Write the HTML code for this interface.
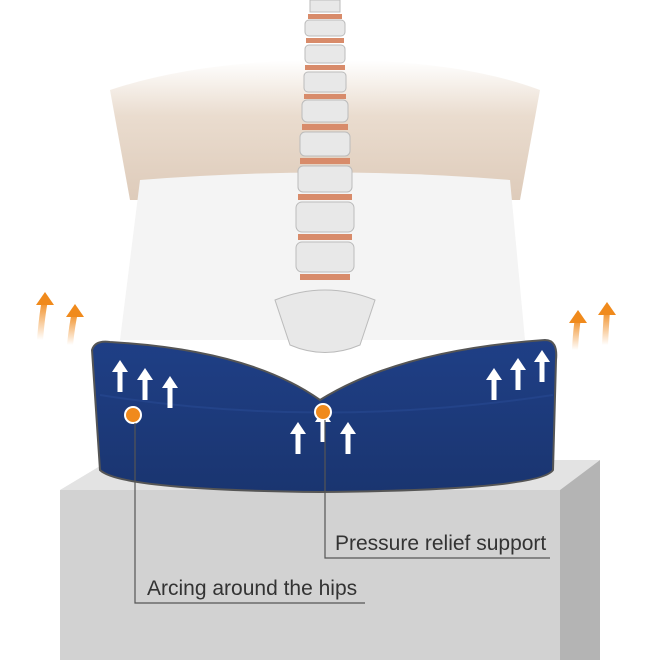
<!DOCTYPE html>
<html><head><style>
body{margin:0;width:660px;height:660px;overflow:hidden;background:#fff;font-family:"Liberation Sans",sans-serif}
</style></head><body>
<svg width="660" height="660" viewBox="0 0 660 660" xmlns="http://www.w3.org/2000/svg">
<defs>
<linearGradient id="torso" x1="0" y1="0" x2="0" y2="1">
<stop offset="0" stop-color="#fff"/><stop offset="0.4" stop-color="#e6d6c6"/><stop offset="1" stop-color="#d8c2ae"/></linearGradient>
<linearGradient id="cush" x1="0" y1="0" x2="0" y2="1">
<stop offset="0" stop-color="#1f3f86"/><stop offset="1" stop-color="#1a3570"/></linearGradient>
<linearGradient id="org" x1="0" y1="1" x2="0" y2="0">
<stop offset="0" stop-color="#fff"/><stop offset="1" stop-color="#f08a1c"/></linearGradient>
</defs>
<path d="M110 90 Q200 60 330 60 Q460 60 540 90 L520 200 L130 200 Z" fill="url(#torso)" opacity="0.85"/>
<path d="M140 180 Q330 165 510 180 L525 340 L120 340 Z" fill="#f4f4f4"/>
<polygon points="60,490 110,460 600,460 560,490" fill="#e3e3e3"/>
<rect x="60" y="490" width="500" height="170" fill="#d2d2d2"/>
<polygon points="560,490 600,460 600,660 560,660" fill="#b4b4b4"/>
<path d="M92 350 Q95 340 110 342 Q250 350 320 400 Q400 350 545 340 Q558 340 556 360 L553 470 Q540 490 320 492 Q120 490 100 470 Z" fill="url(#cush)" stroke="#555" stroke-width="2"/>
<path d="M100 395 Q320 430 553 395" fill="none" stroke="#2a4b96" stroke-width="2" opacity="0.5"/>
<g fill="#e8e8e8" stroke="#bbb">
<rect x="310" y="0" width="30" height="12"/>
<rect x="305" y="20" width="40" height="16" rx="4"/>
<rect x="305" y="45" width="40" height="18" rx="4"/>
<rect x="304" y="72" width="42" height="20" rx="4"/>
<rect x="302" y="100" width="46" height="22" rx="5"/>
<rect x="300" y="132" width="50" height="24" rx="5"/>
<rect x="298" y="166" width="54" height="26" rx="5"/>
<rect x="296" y="202" width="58" height="30" rx="6"/>
<rect x="296" y="242" width="58" height="30" rx="6"/>
<path d="M275 300 Q325 280 375 300 L360 345 Q325 360 290 345 Z"/>
</g>
<g fill="#d88b6a">
<rect x="308" y="14" width="34" height="5"/><rect x="306" y="38" width="38" height="5"/><rect x="305" y="65" width="40" height="5"/>
<rect x="304" y="94" width="42" height="5"/><rect x="302" y="124" width="46" height="6"/><rect x="300" y="158" width="50" height="6"/>
<rect x="298" y="194" width="54" height="6"/><rect x="298" y="234" width="54" height="6"/><rect x="300" y="274" width="50" height="6"/>
</g>
<g stroke="url(#org)" stroke-width="6" fill="none">
<path d="M40 340 Q42 315 45 300"/><path d="M70 345 Q72 325 75 312"/>
<path d="M575 350 Q576 330 578 318"/><path d="M605 345 Q606 325 607 310"/>
</g>
<g fill="#f08a1c">
<polygon points="45,292 36,305 54,305"/><polygon points="75,304 66,317 84,317"/>
<polygon points="578,310 569,323 587,323"/><polygon points="607,302 598,315 616,315"/>
</g>
<g fill="#fff">
<g id="a"><rect x="-2.5" y="0" width="5" height="22"/><polygon points="0,-10 -8,2 8,2"/></g>
<use href="#a" x="120" y="370"/><use href="#a" x="145" y="378"/><use href="#a" x="170" y="386"/>
<use href="#a" x="298" y="432"/><use href="#a" x="323" y="420"/><use href="#a" x="348" y="432"/>
<use href="#a" x="494" y="378"/><use href="#a" x="518" y="368"/><use href="#a" x="542" y="360"/>
</g>
<circle cx="133" cy="415" r="8" fill="#f08a1c" stroke="#fff" stroke-width="2"/>
<circle cx="323" cy="412" r="8" fill="#f08a1c" stroke="#fff" stroke-width="2"/>
<g stroke="#555" stroke-width="1.2" fill="none">
<polyline points="325,420 325,558 550,558"/>
<polyline points="135,423 135,603 365,603"/>
</g>
<text x="335" y="550" font-size="21" fill="#333">Pressure relief support</text>
<text x="147" y="595" font-size="21" fill="#333">Arcing around the hips</text>
</svg>
</body></html>
